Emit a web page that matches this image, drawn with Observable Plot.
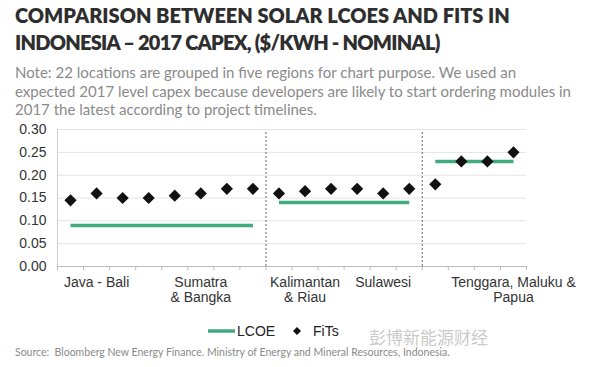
<!DOCTYPE html>
<html>
<head>
<meta charset="utf-8">
<script src="https://cdn.jsdelivr.net/npm/d3@7"></script>
<script src="https://cdn.jsdelivr.net/npm/@observablehq/plot@0.6"></script>
<style>
  body { margin: 0; background: #fff; width: 599px; height: 367px; position: relative; overflow: hidden; }
  .abs { position: absolute; white-space: nowrap; }
  #title { left: 15px; top: 2px; font-family: Lato, sans-serif; font-weight: 800; font-size: 20px; line-height: 27px; color: #2e2e2e; }
  #note { left: 15px; top: 63px; font-family: Lato, sans-serif; font-weight: 400; font-size: 15px; line-height: 18.5px; color: #8a8a8a; }
  #chart { left: 0; top: 120px; }
  #legend { left: 0; top: 322px; font-family: "Liberation Sans", Arial, sans-serif; font-size: 14px; color: #222; }
  #source { left: 15px; top: 346px; font-family: Lato, sans-serif; font-size: 10.5px; line-height: 13px; color: #8a8a8a; }
  #wm { left: 369px; top: 330px; font-family: "Noto Sans CJK SC", sans-serif; font-size: 17px; line-height: 14px; color: #cacaca; }
</style>
</head>
<body>
<div id="title" class="abs">COMPARISON BETWEEN SOLAR LCOES AND FITS IN<br><span style="letter-spacing:-0.75px">INDONESIA – 2017 CAPEX, ($/KWH - NOMINAL)</span></div>
<div id="note" class="abs">Note: 22 locations are grouped in five regions for chart purpose. We used an<br>expected 2017 level capex because developers are likely to start ordering modules in<br>2017 the latest according to project timelines.</div>
<div id="chart" class="abs"></div>
<div id="legend" class="abs">
  <svg width="599" height="20" style="position:absolute;left:0;top:0">
    <line x1="208" x2="235" y1="9" y2="9" stroke="#40a97d" stroke-width="3.5"></line>
    <path d="M297,5 L301,9 L297,13 L293,9 Z" fill="#111"></path>
  </svg>
  <span class="abs" style="left:237px;top:1px">LCOE</span>
  <span class="abs" style="left:313px;top:1px">FiTs</span>
</div>
<div id="wm" class="abs">彭博新能源财经</div>
<div id="source" class="abs">Source:&nbsp; Bloomberg New Energy Finance. Ministry of Energy and Mineral Resources, Indonesia.</div>
<script>
// FiT values per location (left to right)
const fits = [0.145, 0.16, 0.15, 0.15, 0.155, 0.16, 0.17, 0.17,
              0.16, 0.165, 0.17, 0.17, 0.16, 0.17,
              0.18, 0.23, 0.23, 0.25];
// locations in each panel group
const groupSizes = [8, 6, 4];
// LCOE per group
const lcoe = [0.09, 0.14, 0.23];
// region labels and the location index they sit under
const regionLabels = ["Java - Bali", "Sumatra\n& Bangka", "Kalimantan\n& Riau", "Sulawesi", "Tenggara, Maluku &\nPapua"];
const regionAt = [1, 5, 9, 12, 17];
const yTicks = [0, 0.05, 0.10, 0.15, 0.20, 0.25, 0.30];

const points = fits.map((v, i) => ({i, v}));
const starts = [];
groupSizes.reduce((acc, s) => { starts.push(acc); return acc + s; }, 0);
const segments = lcoe.map((v, g) => ({x1: starts[g] + 0.5, x2: starts[g] + groupSizes[g] - 0.5, y: v}));
const separators = starts.slice(1);
const labels = regionLabels.map((t, k) => ({t, at: regionAt[k]}));
const n = fits.length;

const green = "#40a97d";
const chart = Plot.plot({
  width: 599,
  height: 185,
  marginLeft: 57,
  marginRight: 73,
  marginTop: 9,
  marginBottom: 39,
  style: {fontFamily: "'Liberation Sans', Arial, sans-serif", fontSize: "14px", color: "#333", background: "transparent"},
  x: {domain: [0, n]},
  y: {domain: [0, 0.3]},
  marks: [
    Plot.ruleY(yTicks.slice(1), {stroke: "#e3e3e3", strokeWidth: 1}),
    Plot.ruleX([0], {y1: 0, y2: 0.3, stroke: "#cfcfcf"}),
    Plot.axisY(yTicks, {tickSize: 0, tickPadding: 11, tickFormat: ".2f", fill: "#333", fontSize: 14}),
    Plot.axisX(d3.range(n + 1), {tickSize: 4, tickFormat: () => "", stroke: "#bbb"}),
    Plot.ruleY([0], {stroke: "#bbb"}),
    Plot.ruleX(separators, {y1: 0, y2: 0.295, stroke: "#666", strokeDasharray: "2,2"}),
    Plot.link(segments, {x1: "x1", x2: "x2", y1: "y", y2: "y", stroke: green, strokeWidth: 3.5}),
    Plot.dot(points, {x: d => d.i + 0.5, y: "v", symbol: "diamond2", r: 5.5, fill: "#111", stroke: null}),
    Plot.text(labels, {x: d => d.at + 0.5, y: 0, text: "t", dy: 10, lineAnchor: "top", fontSize: 14, fill: "#333", lineHeight: 1.05})
  ]
});
document.getElementById("chart").appendChild(chart);
</script>
</body>
</html>
